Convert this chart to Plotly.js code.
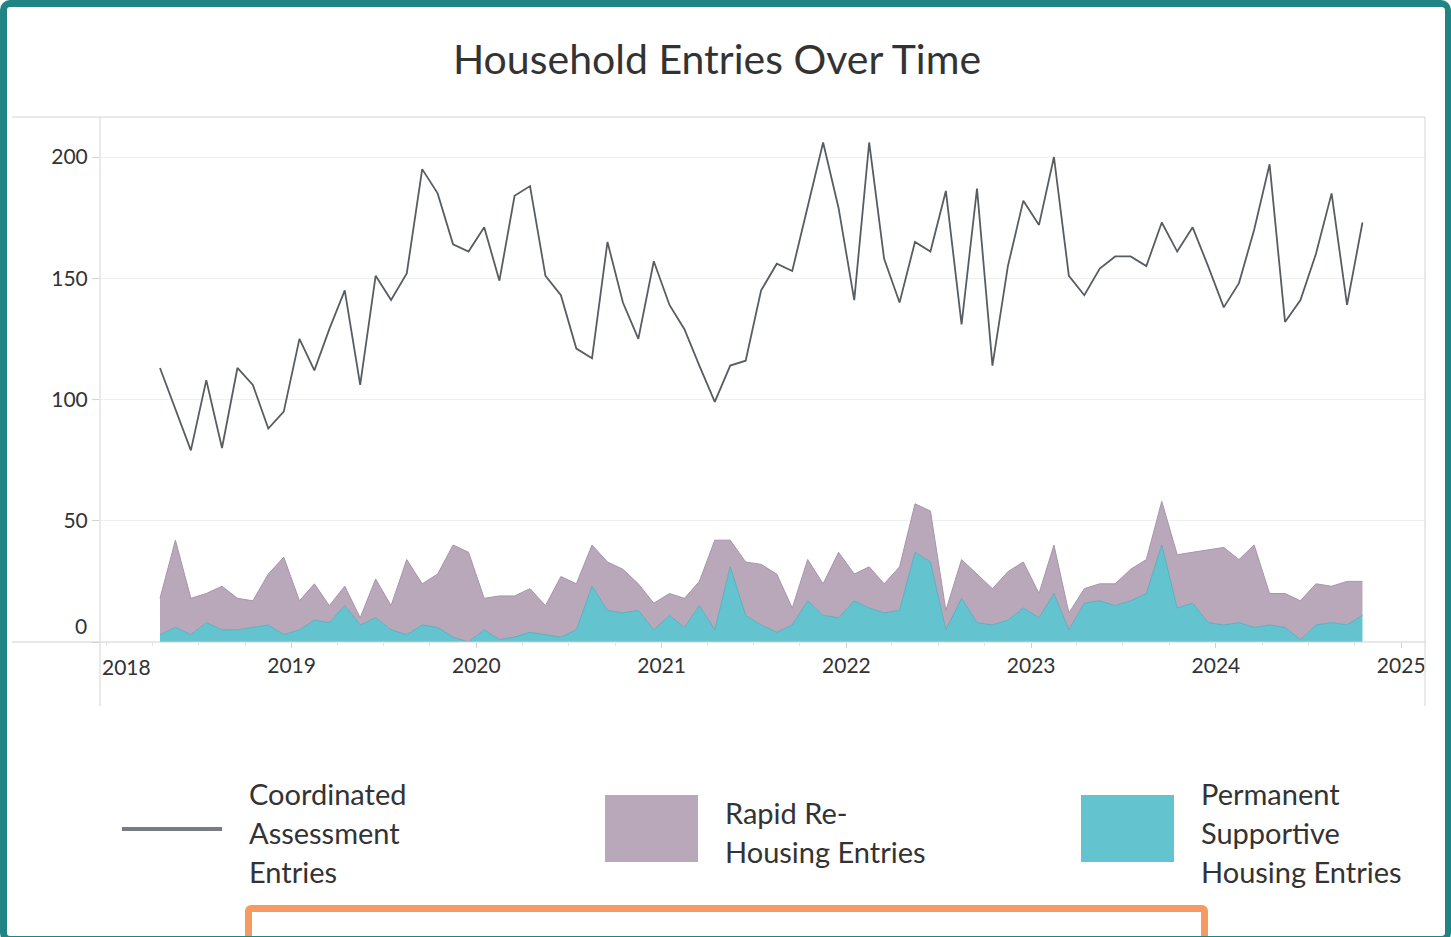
<!DOCTYPE html>
<html>
<head>
<meta charset="utf-8">
<script src="https://cdn.plot.ly/plotly-3.0.1.min.js"></script>
<style>
  html, body { margin:0; padding:0; width:1451px; height:937px; overflow:hidden; background:#ffffff; }
  #chart { position:absolute; left:0; top:0; width:1451px; height:937px; }
  #frame { position:absolute; left:0; top:0; width:1451px; height:943px; box-sizing:border-box;
           border:7px solid #218484; border-right-width:6px; border-radius:10px; pointer-events:none; z-index:5; }
  #orange { position:absolute; left:245px; top:905px; width:963px; height:60px; box-sizing:border-box;
            border:7px solid #f79a62; border-radius:6px; pointer-events:none; z-index:4; }
</style>
</head>
<body>
<div id="chart"></div>
<div id="frame"></div>
<div id="orange"></div>
<script>
// ---- data (monthly, Apr 2018 – Oct 2024) ----
const months = [
  "2018-04","2018-05","2018-06","2018-07","2018-08","2018-09","2018-10","2018-11","2018-12",
  "2019-01","2019-02","2019-03","2019-04","2019-05","2019-06","2019-07","2019-08","2019-09","2019-10","2019-11","2019-12",
  "2020-01","2020-02","2020-03","2020-04","2020-05","2020-06","2020-07","2020-08","2020-09","2020-10","2020-11","2020-12",
  "2021-01","2021-02","2021-03","2021-04","2021-05","2021-06","2021-07","2021-08","2021-09","2021-10","2021-11","2021-12",
  "2022-01","2022-02","2022-03","2022-04","2022-05","2022-06","2022-07","2022-08","2022-09","2022-10","2022-11","2022-12",
  "2023-01","2023-02","2023-03","2023-04","2023-05","2023-06","2023-07","2023-08","2023-09","2023-10","2023-11","2023-12",
  "2024-01","2024-02","2024-03","2024-04","2024-05","2024-06","2024-07","2024-08","2024-09","2024-10"
];
const coordinatedAssessment = [
  113, 96, 79,108, 80,113,106, 88, 95,
  125,112,129,145,106,151,141,152,195,185,164,161,
  171,149,184,188,151,143,121,117,165,140,125,157,
  139,129,114, 99,114,116,145,156,153,179,206,179,
  141,206,158,140,165,161,186,131,187,114,155,182,
  172,200,151,143,154,159,159,155,173,161,171,155,
  138,148,170,197,132,141,160,185,139,173
];
const permanentSupportive = [
    3,  6,  3,  8,  5,  5,  6,  7,  3,
    5,  9,  8, 15,  7, 10,  5,  3,  7,  6,  2,null,
    5,  1,  2,  4,  3,  2,  5, 23, 13, 12, 13,  5,
   11,  6, 15,  5, 31, 11,  7,  4,  7, 17, 11, 10,
   17, 14, 12, 13, 37, 33,  5, 18,  8,  7,  9, 14,
   10, 20,  5, 16, 17, 15, 17, 20, 40, 14, 16,  8,
    7,  8,  6,  7,  6,  1,  7,  8,  7, 11
];
const rapidRehousing = [
   15, 36, 15, 12, 18, 13, 11, 21, 32,
   12, 15,  7,  8,  3, 16, 10, 31, 17, 22, 38, 37,
   13, 18, 17, 18, 12, 25, 19, 17, 20, 18, 11, 11,
    9, 12, 10, 37, 11, 22, 25, 24,  7, 17, 13, 27,
   11, 17, 12, 18, 20, 21,  8, 16, 20, 15, 20, 19,
   10, 20,  7,  6,  7,  9, 13, 14, 18, 22, 21, 30,
   32, 26, 34, 13, 14, 16, 17, 15, 18, 14
];
const yearTickVals = ["2019-01-01","2020-01-01","2021-01-01","2022-01-01","2023-01-01","2024-01-01","2025-01-01"];
const yearTickText = ["2019","2020","2021","2022","2023","2024","2025"];
const yTickVals = [0, 50, 100, 150, 200];
const yTickText = ["", "50", "100", "150", "200"];
const seriesNames = ["Coordinated Assessment Entries", "Rapid Re-Housing Entries", "Permanent Supportive Housing Entries"];

// ---- layout helpers (pixel -> paper) ----
const W = 1451, H = 937;
const L = 100, R = 1425, T = 117, B = 642;
const px = v => (v - L) / (R - L);
const py = v => (B - v) / (B - T);

const FONT = 'Lato, "Open Sans", "Noto Sans", sans-serif';
const TXT = '#333333';
const PURPLE = '#b9a7ba', CYAN = '#63c4d0', LINE = '#585d64';

const traces = [
  { x: months, y: permanentSupportive, name: seriesNames[2], type: 'scatter', mode: 'lines',
    stackgroup: 'areas', xperiod: 'M1', xperiodalignment: 'middle',
    fillcolor: CYAN, line: { color: '#58b0bc', width: 1 }, hoverinfo: 'skip' },
  { x: months, y: rapidRehousing, name: seriesNames[1], type: 'scatter', mode: 'lines',
    stackgroup: 'areas', xperiod: 'M1', xperiodalignment: 'middle',
    fillcolor: PURPLE, line: { color: '#a895ab', width: 1 }, hoverinfo: 'skip' },
  { x: months, y: coordinatedAssessment, name: seriesNames[0], type: 'scatter', mode: 'lines',
    xperiod: 'M1', xperiodalignment: 'middle',
    line: { color: LINE, width: 1.8 }, hoverinfo: 'skip' }
];

const shapes = [
  // pane borders
  { type:'line', xref:'paper', yref:'paper', x0:px(12), x1:1, y0:1, y1:1, line:{color:'#d4d4d4', width:1} },
  { type:'line', xref:'paper', yref:'paper', x0:px(12), x1:1, y0:0, y1:0, line:{color:'#d0d0d0', width:1.2} },
  { type:'line', xref:'paper', yref:'paper', x0:0, x1:0, y0:py(706), y1:1, line:{color:'#d4d4d4', width:1} },
  { type:'line', xref:'paper', yref:'paper', x0:1, x1:1, y0:py(706), y1:1, line:{color:'#d4d4d4', width:1} },
  // legend symbols
  { type:'line', xref:'paper', yref:'paper', x0:px(122), x1:px(222), y0:py(829), y1:py(829), line:{color:'#787c82', width:4} },
  { type:'rect', xref:'paper', yref:'paper', x0:px(605), x1:px(698), y0:py(862), y1:py(795), fillcolor:PURPLE, line:{width:0} },
  { type:'rect', xref:'paper', yref:'paper', x0:px(1081), x1:px(1174), y0:py(862), y1:py(795), fillcolor:CYAN, line:{width:0} }
];

function label(text, x, y, size, anchor) {
  return { text: text, xref:'paper', yref:'paper', x: px(x), y: py(y), xanchor: anchor || 'left', yanchor:'middle',
           showarrow:false, font:{ family:FONT, size:size, color:TXT } };
}

const annotations = [
  label('2018', 126, 666, 21, 'center'),
  label('0', 89, 625, 21, 'right'),
  label('Coordinated', 247, 793, 29),
  label('Assessment', 247, 832, 29),
  label('Entries', 247, 871, 29),
  label('Rapid Re-', 723, 812, 29),
  label('Housing Entries', 723, 851, 29),
  label('Permanent', 1199, 793, 29),
  label('Supportive', 1199, 832, 29),
  label('Housing Entries', 1199, 871, 29)
];

const layout = {
  width: W, height: H,
  margin: { l: L, r: W - R, t: T, b: H - B, pad: 0 },
  paper_bgcolor: '#ffffff', plot_bgcolor: '#ffffff',
  showlegend: false,
  title: { text: 'Household Entries Over Time', xref:'container', yref:'container',
           x: 717 / W, y: 1 - 60 / H, xanchor:'center', yanchor:'middle',
           font: { family: FONT, size: 41, color: TXT } },
  xaxis: {
    type: 'date', range: ['2017-12-18 12:00', '2025-02-17'],
    tickmode: 'array', tickvals: yearTickVals, ticktext: yearTickText,
    ticks: 'outside', ticklen: 5, tickcolor: '#d0d0d0',
    tickfont: { family: FONT, size: 21, color: TXT },
    showgrid: false, zeroline: false, showline: false,
    minor: { tickmode:'linear', tick0:'2018-01-01', dtick:'M3', ticks:'outside', ticklen:3, tickcolor:'#e4e4e4', showgrid:false }
  },
  yaxis: {
    range: [0, 216.5],
    tickmode: 'array', tickvals: yTickVals, ticktext: yTickText,
    ticks: 'outside', ticklen: 7, tickcolor: '#d4d4d4',
    tickfont: { family: FONT, size: 21, color: TXT },
    showgrid: true, gridcolor: '#efefef', gridwidth: 1,
    zeroline: false, showline: false
  },
  shapes: shapes,
  annotations: annotations
};

Plotly.newPlot('chart', traces, layout, { displayModeBar: false, staticPlot: true });
</script>
</body>
</html>
